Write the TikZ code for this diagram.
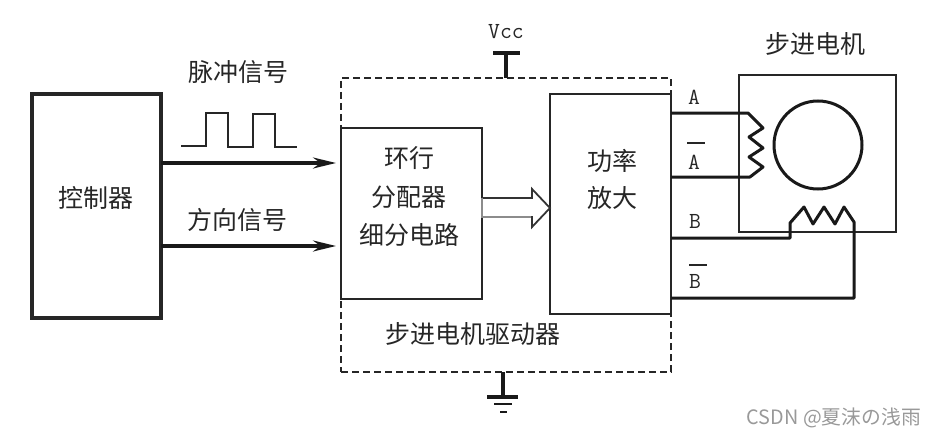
\documentclass[tikz,border=0pt]{standalone}
\usepackage{fontspec}
\setmainfont{Noto Sans CJK SC}
\usetikzlibrary{arrows.meta}
\tikzset{
  x=1pt,y=-1pt,
  box/.style={draw=black!85,fill=white,line width=1.8pt,outer sep=0pt,inner sep=0pt},
  cn/.style={font=\fontsize{25}{28}\selectfont,text=black!85,inner sep=0pt},
  lat/.style={font=\ttfamily\fontsize{23}{26}\selectfont,text=black!85,inner sep=0pt},
  sig/.style={line width=3.2pt,black!90,-{Stealth[length=23pt,width=11pt]},shorten >=5pt},
  wire/.style={line width=3pt,black!90,line join=round},
  thin line/.style={line width=2pt,black!85,line join=miter},
}
\begin{document}
\begin{tikzpicture}
\useasboundingbox (0,0) rectangle (935,436);
% dashed driver frame
\node[draw=black!85,line width=1.8pt,dash pattern=on 7pt off 4pt,minimum width=330pt,minimum height=294pt,inner sep=0,outer sep=0] (driver) at (506,225) {};
% boxes
\node[box,line width=3.2pt,minimum width=129pt,minimum height=224pt] (ctrl) at (96.5,206) {};
\node[box,minimum width=141pt,minimum height=171pt] (dist) at (411.5,213.5) {};
\node[box,minimum width=121pt,minimum height=220pt] (amp) at (610.5,204) {};
\node[box,minimum width=157pt,minimum height=157pt] (motor) at (817.5,153.5) {};
\node[draw=black!90,line width=3pt,circle,minimum size=88pt,inner sep=0] (rotor) at (818,145) {};
% texts
\node[cn] (tctrl) at (96,198) {控制器};
\node[cn] (tp) at (238,72) {脉冲信号};
\node[cn] (td) at (237,220) {方向信号};
\node[cn] (t1) at (409,158) {环行};
\node[cn] (t2) at (409,197) {分配器};
\node[cn] (t3) at (409,235) {细分电路};
\node[cn] (t4) at (612,161) {功率};
\node[cn] (t5) at (612,198) {放大};
\node[cn] (t6) at (473,334) {步进电机驱动器};
\node[cn] (t7) at (815,44) {步进电机};
\node[lat] (vcc) at (506,32) {Vcc};
\node[lat] (la) at (694,97) {A};
\node[lat] (lab) at (694,162) {A};
\node[lat] (lb) at (695,221) {B};
\node[lat] (lbb) at (695,281) {B};
\draw[line width=2.2pt,black!85] (687,143) -- (705,143);
\draw[line width=2.2pt,black!85] (689,265) -- (707,265);
% signal arrows
\coordinate (y1) at (0,163);
\coordinate (y2) at (0,246);
\draw[sig] (ctrl.east |- y1) -- (dist.west |- y1);
\draw[sig] (ctrl.east |- y2) -- (dist.west |- y2);
% pulse
\draw[thin line] (181,146) -- (206,146) -- (206,113) -- (228,113) -- (228,147) -- (253,147) -- (253,114) -- (275,114) -- (275,147) -- (297,147);
% hollow arrow
\draw[line width=1.8pt,black!80,fill=white] (dist.east |- 0,198) -- (532,198) -- (532,189) -- (amp.west |- 0,208) -- (532,227) -- (532,217) -- (dist.east |- 0,217);
\draw[line width=2.6pt,black!45] (dist.east |- 0,197.5) -- (dist.east |- 0,217) -- (531,217);
% Vcc
\coordinate (vt) at (506,53);
\draw[line width=3.4pt,black!90] (493,53) -- (520,53);
\draw[line width=3.4pt,black!90] (vt) -- (vt |- driver.north);
% ground
\coordinate (gt) at (503,397);
\draw[line width=3.2pt,black!90] (gt |- driver.south) -- (gt);
\draw[line width=3.2pt,black!90] (487,397) -- (518,397);
\draw[line width=2.8pt,black!90] (494,404) -- (512,404);
\draw[line width=2.8pt,black!90] (500,412) -- (507,412);
% windings
\coordinate (a1) at (748,113);
\coordinate (a2) at (750,177);
\coordinate (b1) at (790,238);
\coordinate (b2) at (854,298);
\draw[wire] (amp.east |- a1) -- (a1) -- (763,128) -- (749,137) -- (763,148) -- (749,157) -- (763,167) -- (a2) -- (amp.east |- a2);
\draw[wire] (amp.east |- b1) -- (b1) -- (790,223) -- (804,207) -- (813,224) -- (824,207) -- (835,224) -- (844,207) -- (854,222) -- (b2) -- (amp.east |- b2);
% watermark
\node[font=\fontsize{19.8}{22}\selectfont,text=black!40,anchor=east,inner sep=0] (wm) at (921,418) {CSDN @夏沫の浅雨};
\end{tikzpicture}
\end{document}
